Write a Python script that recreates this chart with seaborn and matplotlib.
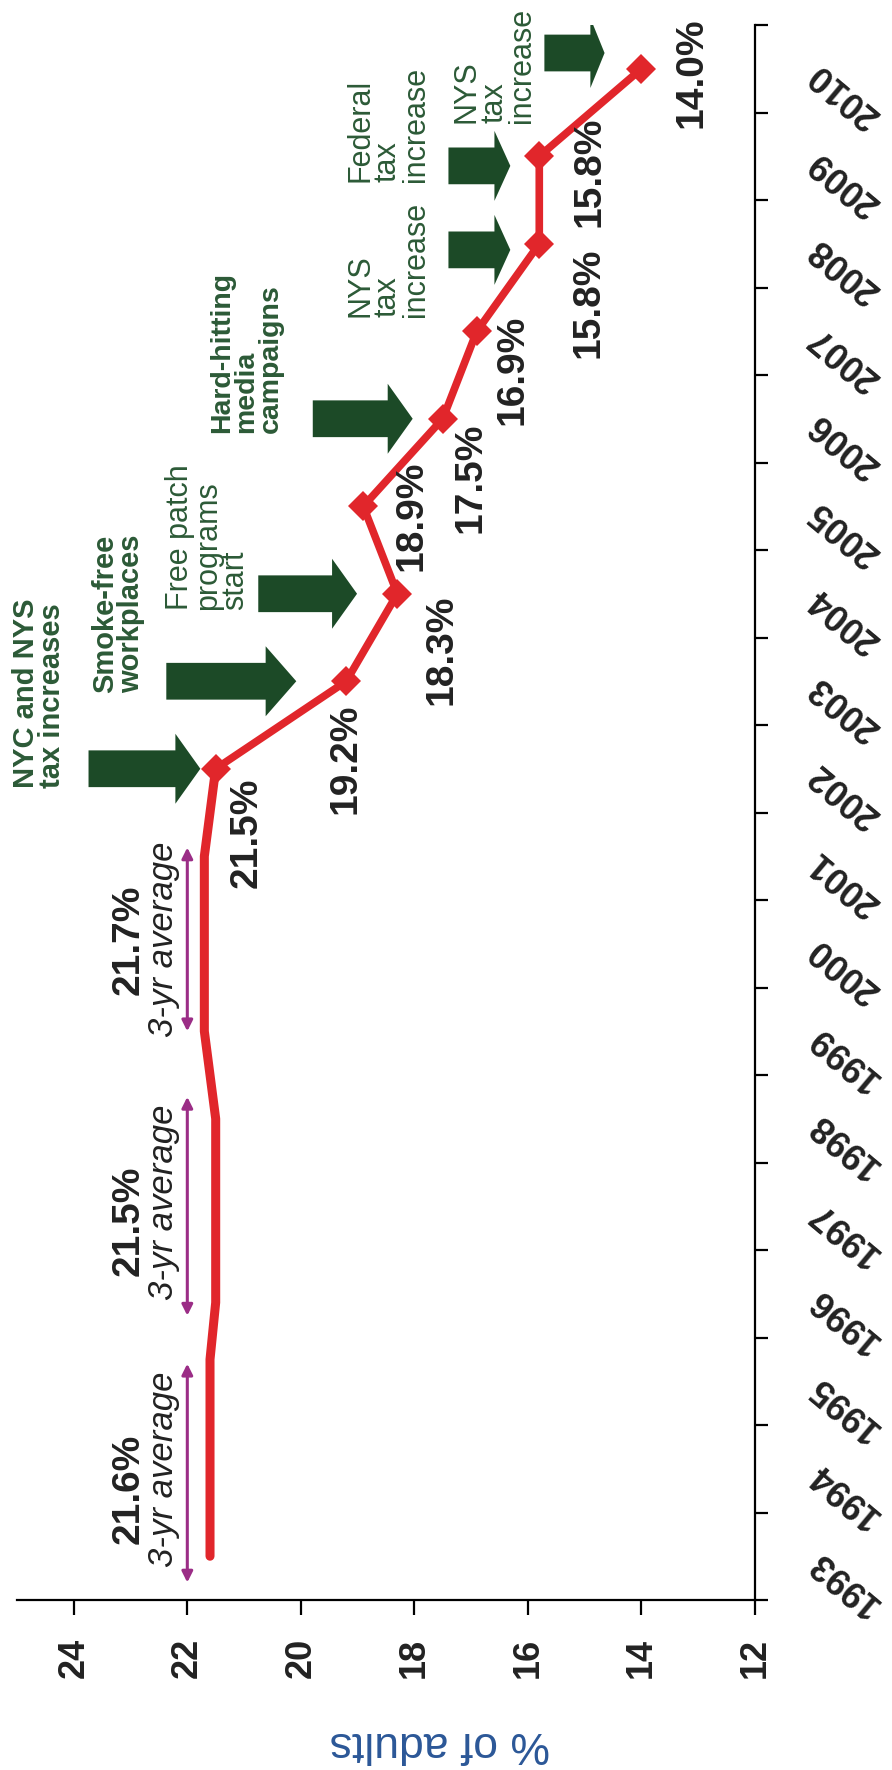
import numpy as np
import pandas as pd
import seaborn as sns
import matplotlib.pyplot as plt
from matplotlib.patches import FancyArrow

sns.set_theme(style='white')
plt.rcParams['font.family'] = ['Liberation Sans', 'DejaVu Sans']

# adult smoking rate, yearly points 2002-2010
years = [2002, 2003, 2004, 2005, 2006, 2007, 2008, 2009, 2010]
rates = [21.5, 19.2, 18.3, 18.9, 17.5, 16.9, 15.8, 15.8, 14.0]
rate_text = ['21.5%', '19.2%', '18.3%', '18.9%', '17.5%', '16.9%', '15.8%', '15.8%', '14.0%']

# 3-year averages before 2002
avg_vals = [21.6, 21.5, 21.7]
avg_text = ['21.6%', '21.5%', '21.7%']
avg_from = [1993, 1995.9, 1999]
avg_to = [1995.25, 1998, 2001]

# policy events
events = ['NYC and NYS\ntax increases', 'Smoke-free\nworkplaces', 'Free patch\nprograms\nstart',
          'Hard-hitting\nmedia\ncampaigns', 'NYS\ntax\nincrease', 'Federal\ntax\nincrease',
          'NYS\ntax\nincrease']
event_year = [2002.0, 2003.0, 2004.0, 2006.0, 2007.93, 2008.89, 2010.18]

year_ticks = list(range(1993, 2011))
pct_ticks = [24, 22, 20, 18, 16, 14, 12]

# placement of labels / arrows (pct, year)
lab_x = [20.96, 19.21, 17.52, 18.05, 17.01, 16.27, 14.94, 14.92, 13.11]
lab_y = [2001.27, 2002.11, 2003.36, 2004.89, 2005.32, 2006.56, 2007.33, 2008.82, 2009.95]
avg_lab_y = [1993.77, 1996.83, 2000.04]
avg_sub_y = [1993.99, 1997.04, 2000.05]
avg_arr_from = [1992.7, 1995.75, 1999.0]
avg_arr_to = [1995.2, 1998.25, 2001.1]
arr_tail = [23.74, 22.37, 20.75, 19.79, 17.40, 17.40, 15.71]
arr_tip = [21.77, 20.08, 19.01, 18.03, 16.31, 16.31, 14.65]
arr_head = [0.44, 0.54, 0.44, 0.44, 0.28, 0.28, 0.25]
ev_tx = [25.08, 23.70, 22.39, 21.61, 19.22, 19.22, 17.34]
ev_ty = [2001.78, 2002.87, 2003.81, 2005.84, 2007.16, 2008.71, 2009.38]
ev_weight = ['bold', 'bold', 'normal', 'bold', 'normal', 'normal', 'normal']
ev_size = [21, 21, 22, 20.5, 22, 22, 22]

red = '#e1262b'
dgreen = '#1c4a27'
tgreen = '#2c5a37'
purple = '#9b2d86'
ink = '#222222'

fig = plt.figure(figsize=(8.92, 17.7), dpi=100)
ax = fig.add_axes([17 / 892, 1 - 1600 / 1770, 738 / 892, 1575 / 1770])

# averaged part of the line
ax_y, ax_x = [], []
for a, b, v in zip(avg_from, avg_to, avg_vals):
    ax_y += [a, b]
    ax_x += [v, v]
ax_y.append(years[0])
ax_x.append(rates[0])
avg_df = pd.DataFrame({'pct': ax_x, 'year': ax_y})
sns.lineplot(data=avg_df, x='pct', y='year', orient='y', sort=False,
             color=red, lw=6.5, ax=ax)

df = pd.DataFrame({'pct': rates, 'year': years})
sns.lineplot(data=df, x='pct', y='year', orient='y', sort=False, color=red, lw=5.5,
             marker='D', markersize=15, markeredgewidth=0, ax=ax)

for x, y, s in zip(lab_x, lab_y, rate_text):
    ax.text(x, y, s, rotation=90, ha='center', va='center', fontsize=28,
            fontweight='bold', color=ink)

for v, s, ly, sy, a, b in zip(avg_vals, avg_text, avg_lab_y, avg_sub_y, avg_arr_from, avg_arr_to):
    ax.text(23.04, ly, s, rotation=90, ha='center', va='center', fontsize=28,
            fontweight='bold', color=ink)
    ax.text(22.42, sy, '3-yr average', rotation=90, ha='center', va='center',
            fontsize=25, style='italic', color=ink)
    ax.annotate('', xy=(22.0, b), xytext=(22.0, a),
                arrowprops=dict(arrowstyle='<|-|>', color=purple, lw=2.2,
                                mutation_scale=16, shrinkA=0, shrinkB=0))

for i, s in enumerate(events):
    t0, t1 = arr_tail[i], arr_tip[i]
    ax.add_patch(FancyArrow(t0, event_year[i], t1 - t0, 0, width=0.42, head_width=0.8,
                            head_length=arr_head[i], length_includes_head=True,
                            color=dgreen, lw=0))
    ax.text(ev_tx[i], ev_ty[i], s, rotation=90, rotation_mode='anchor', ha='left',
            va='top', fontsize=ev_size[i], fontweight=ev_weight[i], color=tgreen,
            linespacing=0.9, multialignment='left')

ax.set_xlim(25, 12)
ax.set_ylim(1992.5, 2010.5)

ax.spines['top'].set_visible(False)
ax.spines['left'].set_visible(False)
for sp in ['bottom', 'right']:
    ax.spines[sp].set_linewidth(1.6)
    ax.spines[sp].set_color('black')

ax.set_xticks(pct_ticks)
ax.set_xticklabels([str(t) for t in pct_ticks], rotation=90, fontsize=26,
                   fontweight='bold', color=ink)
ax.tick_params(axis='x', bottom=True, direction='out', length=11, width=1.6,
               color='black', pad=16)

ax.yaxis.tick_right()
ax.set_yticks(np.arange(1992.5, 2011, 1))
ax.set_yticks(year_ticks, labels=[str(y) for y in year_ticks], minor=True)
ax.tick_params(axis='y', which='major', right=True, left=False, direction='out',
               length=9.5, width=1.6, color='black', labelright=False, labelleft=False)
ax.tick_params(axis='y', which='minor', right=True, left=False, length=0, pad=42,
               labelright=True, labelleft=False)
for lbl in ax.get_yticklabels(minor=True):
    lbl.set(rotation=140, ha='right', va='center', rotation_mode='anchor',
            fontsize=26, fontweight='bold', color=ink)

ax.set_ylabel('')
ax.set_xlabel('% of adults', fontsize=32, color='#2b5797', rotation=180, va='center')
ax.xaxis.set_label_coords(0.573, -0.091)

fig.savefig('out.png', dpi=100, facecolor='white')
